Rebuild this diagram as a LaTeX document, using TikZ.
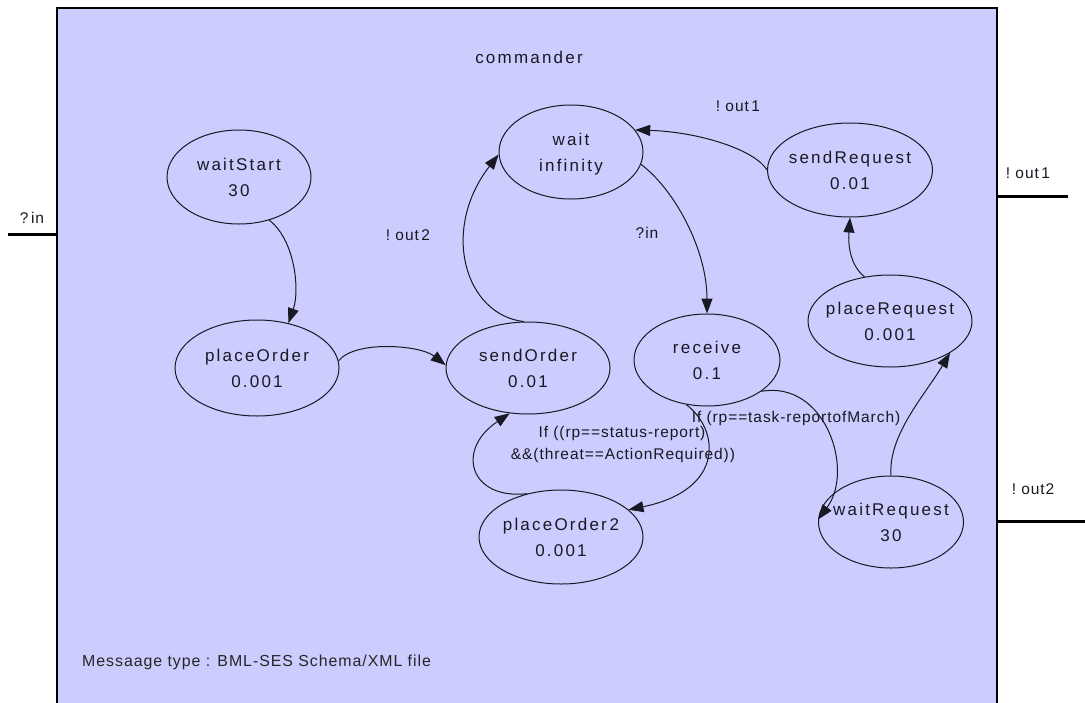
\documentclass[tikz,border=0pt]{standalone}
\usepackage{fontspec}
\setmainfont{Liberation Sans}
\newfontfamily\nodefont{Liberation Sans}[LetterSpace=13]
\newfontfamily\labfont{Liberation Sans}[LetterSpace=6]
\usetikzlibrary{shapes.geometric,arrows.meta}
\definecolor{boxfill}{RGB}{204,204,255}
\definecolor{ink}{RGB}{25,25,35}
\newcommand\twol[2]{\raisebox{0pt}[0pt][0pt]{\makebox[0pt]{\raisebox{7pt}{#1}}}\raisebox{0pt}[0pt][0pt]{\makebox[0pt]{\raisebox{-19.5pt}{#2}}}}
\begin{document}
\begin{tikzpicture}[x=1pt,y=-1pt,
  state/.style={ellipse,draw=ink,line width=1pt,inner sep=0pt,font=\nodefont\fontsize{17}{20}\selectfont,text=ink},
  trans/.style={draw=ink,line width=1pt,-{Triangle[length=15pt,width=11pt]}},
  lab/.style={font=\labfont\fontsize{15.5}{18}\selectfont,text=ink,inner sep=0pt},
  port/.style={line width=3pt,draw=black}]
\useasboundingbox (0,0) rectangle (1085,702);
% container
\fill[boxfill] (57,8) rectangle (997,710);
\draw[line width=1.4pt] (57,710) -- (57,8) -- (997,8) -- (997,710);
\node[lab,font=\nodefont\fontsize{17}{20}\selectfont] (title) at (529,57) {commander};
\node[lab,anchor=west,font=\labfont\fontsize{15.9}{18}\selectfont,text=black!85] (msg) at (82,662) {Messaage type : BML-SES Schema/XML file};
% ports
\coordinate (inA) at (8,234); \coordinate (inB) at (57,234);
\draw[port] (inA) -- (inB);
\node[lab] (inl) at (32,218) {?\,in};
\coordinate (o1A) at (997,196); \coordinate (o1B) at (1068,196);
\draw[port] (o1A) -- (o1B);
\node[lab] (o1l) at (1028,173) {!\ out\,1};
\coordinate (o2A) at (997,521); \coordinate (o2B) at (1085,521);
\draw[port] (o2A) -- (o2B);
\node[lab] (o2l) at (1033,489) {!\ out2};
% states
\node[state,minimum width=144,minimum height=94] (ws) at (239,177) {\twol{waitStart}{30}};
\node[state,minimum width=164,minimum height=96] (po) at (257,368) {\twol{placeOrder}{0.001}};
\node[state,minimum width=144,minimum height=94] (w) at (571,152) {\twol{wait}{infinity}};
\node[state,minimum width=165,minimum height=94] (sr) at (850,170) {\twol{sendRequest}{0.01}};
\node[state,minimum width=164,minimum height=92] (pr) at (890,321) {\twol{placeRequest}{0.001}};
\node[state,minimum width=164,minimum height=92] (so) at (528,368) {\twol{sendOrder}{0.01}};
\node[state,minimum width=146,minimum height=92] (rc) at (707,360) {\twol{receive}{0.1}};
\node[state,minimum width=164,minimum height=94] (po2) at (561,537) {\twol{placeOrder\,2}{0.001}};
\node[state,minimum width=145,minimum height=92] (wr) at (891,522) {\twol{waitRequest}{30}};
% transitions
\draw[trans] (ws.-55) .. controls (295,240) and (300,290) .. (po.55);
\draw[trans] (po.5) .. controls (355,340) and (420,345) .. (so.178);
\draw[trans] (so.95) .. controls (465,315) and (440,230) .. (w.182);
\draw[trans] (w.-10) .. controls (675,190) and (707,250) .. (rc.90);
\draw[trans] (sr.180) .. controls (755,150) and (700,132) .. (w.19);
\draw[trans] (pr.120) .. controls (850,265) and (848,245) .. (sr.270);
\draw[trans] (wr.90) .. controls (888,435) and (925,395) .. (pr.-28);
\draw[trans] (rc.-30) .. controls (825,380) and (855,470) .. (wr.178);
\draw[trans] (rc.-115) .. controls (720,430) and (725,490) .. (po2.22);
\draw[trans] (po2.128) .. controls (470,500) and (455,450) .. (so.-112);
% labels
\node[lab] (l1) at (738,106) {!\ out\,1};
\node[lab] (l2) at (408,235) {!\ out\,2};
\node[lab] (l3) at (647,233) {?in};
\node[lab] (l4) at (796,418) {If (rp==task-reportofMarch)};
\node[lab] (l5) at (622,433) {If ((rp==status-report)};
\node[lab] (l6) at (623,455) {\&\&(threat==ActionRequired))};
\end{tikzpicture}
\end{document}
